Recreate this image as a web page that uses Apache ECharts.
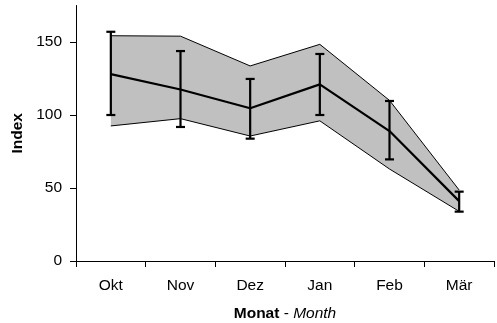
<!DOCTYPE html>
<html>
<head>
<meta charset="utf-8">
<script src="https://cdn.jsdelivr.net/npm/echarts@6/dist/echarts.min.js"></script>
<style>html,body{margin:0;padding:0;background:#fff}#c{width:497px;height:323px}</style>
</head>
<body>
<div id="c"></div>
<script>
const categories = ['Okt', 'Nov', 'Dez', 'Jan', 'Feb', 'Mär'];
const meanValues = [128, 117.5, 104.6, 121, 89, 41];
const errLow = [100, 91.8, 83.8, 100, 69.6, 33.8];
const errHigh = [157, 143.8, 124.7, 141.8, 109.6, 47.5];
const bandLow = [92.5, 97.5, 85.6, 96, 63, 34];
const bandHigh = [154.3, 154, 133.6, 148.4, 110, 48.6];
const yTicks = [0, 50, 100, 150];

const bandDiff = bandHigh.map((v, i) => +(v - bandLow[i]).toFixed(2));
const errData = categories.map((c, i) => [i, errLow[i], errHigh[i]]);

const FONT = 'Liberation Sans, Arial, sans-serif';
const FS = 15.5;
const chart = echarts.init(document.getElementById('c'), null, {renderer: 'canvas'});
chart.setOption({
  animation: false,
  grid: {left: 76, right: 3, top: 5.5, bottom: 62, containLabel: false, outerBoundsMode: 'none'},
  xAxis: {
    type: 'category',
    data: categories,
    boundaryGap: true,
    axisLine: {lineStyle: {color: '#000', width: 1}},
    axisTick: {show: true, length: 6, lineStyle: {color: '#000'}},
    axisLabel: {color: '#000', fontFamily: FONT, fontSize: FS, margin: 17},
    name: '{b|Monat} {n|-} {i|Month}',
    nameLocation: 'middle',
    nameGap: 45,
    nameTextStyle: {
      fontFamily: FONT, fontSize: FS, color: '#000',
      rich: {
        b: {fontWeight: 'bold', fontFamily: FONT, fontSize: FS, color: '#000'},
        n: {fontFamily: FONT, fontSize: FS, color: '#000'},
        i: {fontStyle: 'italic', fontFamily: FONT, fontSize: FS, color: '#000'}
      }
    }
  },
  yAxis: {
    type: 'value',
    min: 0, max: 175, interval: 50,
    splitLine: {show: false},
    axisLine: {show: true, lineStyle: {color: '#000', width: 1}},
    axisTick: {show: true, length: 6, lineStyle: {color: '#000'}, customValues: yTicks},
    axisLabel: {color: '#000', fontFamily: FONT, fontSize: FS, margin: 14, customValues: yTicks},
    name: 'Index',
    nameLocation: 'middle',
    nameGap: 50,
    nameTextStyle: {fontFamily: FONT, fontSize: FS, fontWeight: 'bold', color: '#000'}
  },
  series: [
    {
      type: 'line', stack: 'band', data: bandLow, symbol: 'none',
      lineStyle: {color: '#000', width: 1}, z: 3
    },
    {
      type: 'line', stack: 'band', data: bandDiff, symbol: 'none',
      lineStyle: {color: '#000', width: 1},
      areaStyle: {color: '#c0c0c0', opacity: 1}, z: 2
    },
    {
      type: 'line', data: meanValues, symbol: 'none',
      lineStyle: {color: '#000', width: 2.2}, z: 4
    },
    {
      type: 'custom', data: errData, z: 5,
      renderItem: function (params, api) {
        const x = api.value(0);
        const lo = api.coord([x, api.value(1)]);
        const hi = api.coord([x, api.value(2)]);
        const hw = 4.5;
        const st = {stroke: '#000', lineWidth: 2.2};
        return {
          type: 'group',
          children: [
            {type: 'line', shape: {x1: lo[0], y1: lo[1], x2: hi[0], y2: hi[1]}, style: st},
            {type: 'line', shape: {x1: hi[0] - hw, y1: hi[1], x2: hi[0] + hw, y2: hi[1]}, style: st},
            {type: 'line', shape: {x1: lo[0] - hw, y1: lo[1], x2: lo[0] + hw, y2: lo[1]}, style: st}
          ]
        };
      }
    }
  ]
});
</script>
</body>
</html>
